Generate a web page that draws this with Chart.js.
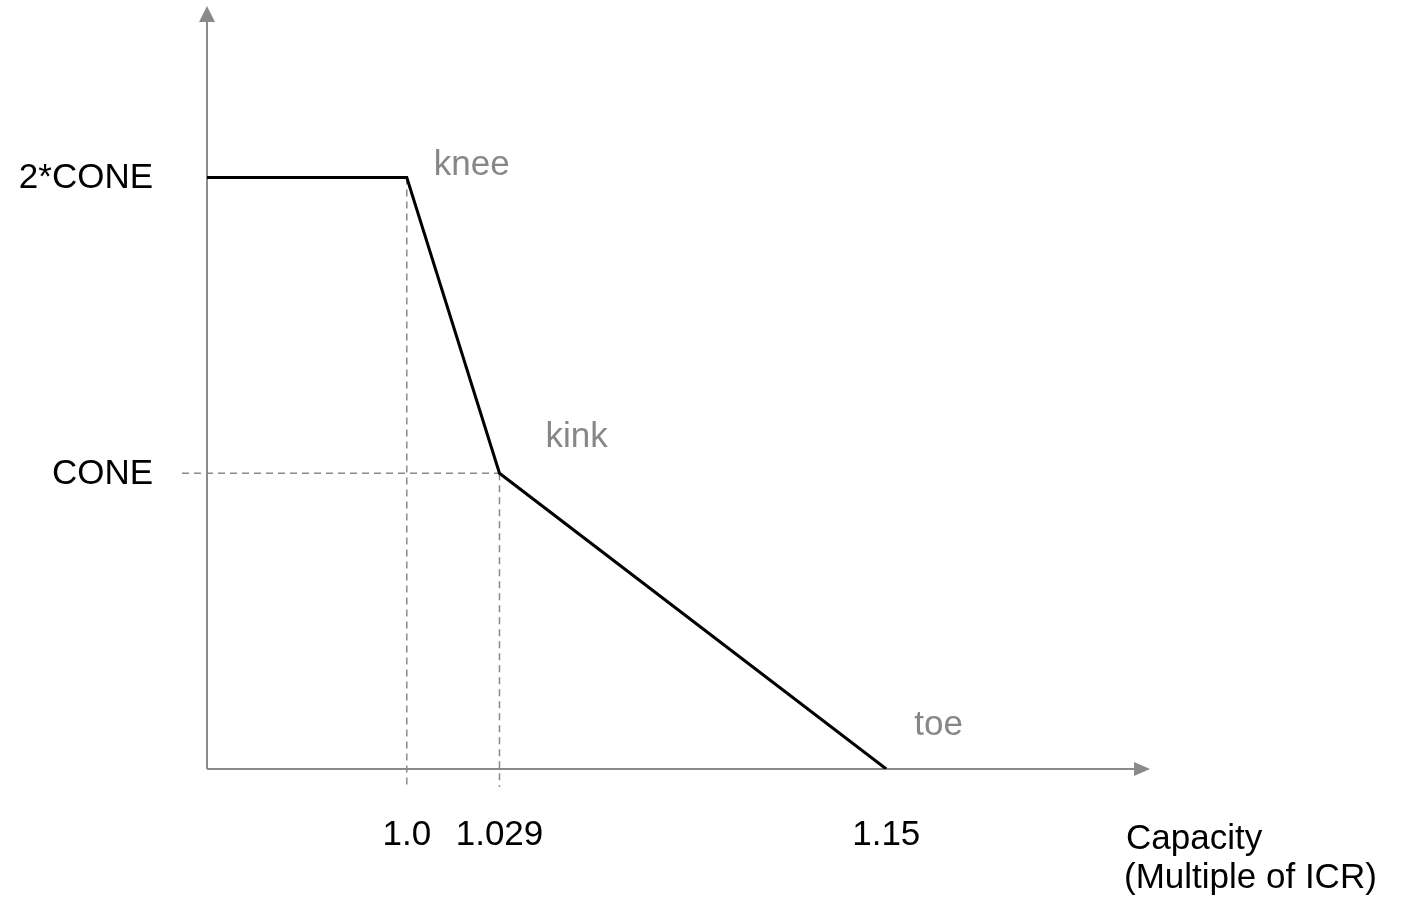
<!DOCTYPE html>
<html>
<head>
<meta charset="utf-8">
<script src="https://cdn.jsdelivr.net/npm/chart.js@4.4.1/dist/chart.umd.min.js"></script>
<style>
  html, body { margin: 0; padding: 0; background: #ffffff; }
  #wrap { width: 1401px; height: 903px; position: relative; }
</style>
</head>
<body>
<div id="wrap"><canvas id="c" width="1401" height="903"></canvas></div>
<script>
// ---- data (capacity as multiple of ICR, price as multiple of CONE) ----
const capacity = [0.9375, 1.0, 1.029, 1.15];
const price = [2, 2, 1, 0];
const pointNames = ['', 'knee', 'kink', 'toe'];
const xTickValues = [1.0, 1.029, 1.15];
const xTickLabels = ['1.0', '1.029', '1.15'];
const yTickValues = [1, 2];
const yTickLabels = ['CONE', '2*CONE'];
const xAxisTitle = ['Capacity', '(Multiple of ICR)'];
const xMax = 1.2325;
const yMax = 2.58;

// ---- style ----
const FONT = '"Liberation Sans", Arial, Helvetica, sans-serif';
const FS = 35;
const AXIS_COLOR = '#8a8a8a';
const NOTE_COLOR = '#878787';
const noteOffsets = { knee: [27, -3], kink: [46, -26], toe: [28, -34] }; // px from point (left, baseline)

const axesPlugin = {
  id: 'axesPlugin',
  beforeDatasetsDraw(chart) {
    const { ctx, chartArea: a, scales: { x, y } } = chart;
    ctx.save();
    // dashed guide lines at knee and kink
    ctx.strokeStyle = AXIS_COLOR;
    ctx.lineWidth = 1.5;
    ctx.setLineDash([7, 5]);
    [1, 2].forEach(i => {
      const px = x.getPixelForValue(capacity[i]);
      const py = y.getPixelForValue(price[i]);
      ctx.beginPath();
      ctx.moveTo(px, py);
      ctx.lineTo(px, a.bottom + 18);
      ctx.stroke();
    });
    {
      const px = x.getPixelForValue(capacity[2]);
      const py = y.getPixelForValue(price[2]);
      ctx.beginPath();
      ctx.moveTo(a.left - 25, py);
      ctx.lineTo(px, py);
      ctx.stroke();
    }
    ctx.setLineDash([]);
    // axes with arrows
    ctx.strokeStyle = AXIS_COLOR;
    ctx.fillStyle = AXIS_COLOR;
    ctx.lineWidth = 2;
    ctx.beginPath();
    ctx.moveTo(a.left, a.bottom);
    ctx.lineTo(a.left, a.top + 14);
    ctx.moveTo(a.left, a.bottom);
    ctx.lineTo(a.right - 14, a.bottom);
    ctx.stroke();
    ctx.beginPath();
    ctx.moveTo(a.left, a.top);
    ctx.lineTo(a.left - 8, a.top + 16);
    ctx.lineTo(a.left + 8, a.top + 16);
    ctx.closePath();
    ctx.fill();
    ctx.beginPath();
    ctx.moveTo(a.right, a.bottom);
    ctx.lineTo(a.right - 16, a.bottom - 7);
    ctx.lineTo(a.right - 16, a.bottom + 7);
    ctx.closePath();
    ctx.fill();
    ctx.restore();
  },
  afterDatasetsDraw(chart) {
    const { ctx, chartArea: a, scales: { x, y } } = chart;
    ctx.save();
    ctx.font = FS + 'px ' + FONT;
    // tick labels
    ctx.fillStyle = '#000';
    ctx.textBaseline = 'middle';
    ctx.textAlign = 'center';
    xTickValues.forEach((v, i) => {
      ctx.fillText(xTickLabels[i], x.getPixelForValue(v), a.bottom + 66);
    });
    ctx.textAlign = 'right';
    yTickValues.forEach((v, i) => {
      ctx.fillText(yTickLabels[i], a.left - 54, y.getPixelForValue(v) + 1);
    });
    // point names
    ctx.textBaseline = 'alphabetic';
    ctx.textAlign = 'left';
    ctx.fillStyle = NOTE_COLOR;
    pointNames.forEach((n, i) => {
      if (!n) return;
      const px = x.getPixelForValue(capacity[i]);
      const py = y.getPixelForValue(price[i]);
      const o = noteOffsets[n];
      ctx.fillText(n, px + o[0], py + o[1]);
    });
    // axis title
    ctx.fillStyle = '#000';
    ctx.fillText(xAxisTitle[0], 1126, 849);
    ctx.fillText(xAxisTitle[1], 1124, 888);
    ctx.restore();
  }
};

new Chart(document.getElementById('c').getContext('2d'), {
  type: 'scatter',
  data: {
    datasets: [{
      data: capacity.map((v, i) => ({ x: v, y: price[i] })),
      showLine: true,
      borderColor: '#000000',
      borderWidth: 3,
      pointRadius: 0,
      pointHoverRadius: 0,
      fill: false,
      tension: 0,
      borderJoinStyle: 'miter'
    }]
  },
  options: {
    responsive: false,
    animation: false,
    devicePixelRatio: 1,
    layout: { padding: { top: 6, right: 251, bottom: 134, left: 207 } },
    plugins: { legend: { display: false }, tooltip: { enabled: false } },
    scales: {
      x: { type: 'linear', display: false, min: capacity[0], max: xMax },
      y: { type: 'linear', display: false, min: 0, max: yMax }
    }
  },
  plugins: [axesPlugin]
});
</script>
</body>
</html>
